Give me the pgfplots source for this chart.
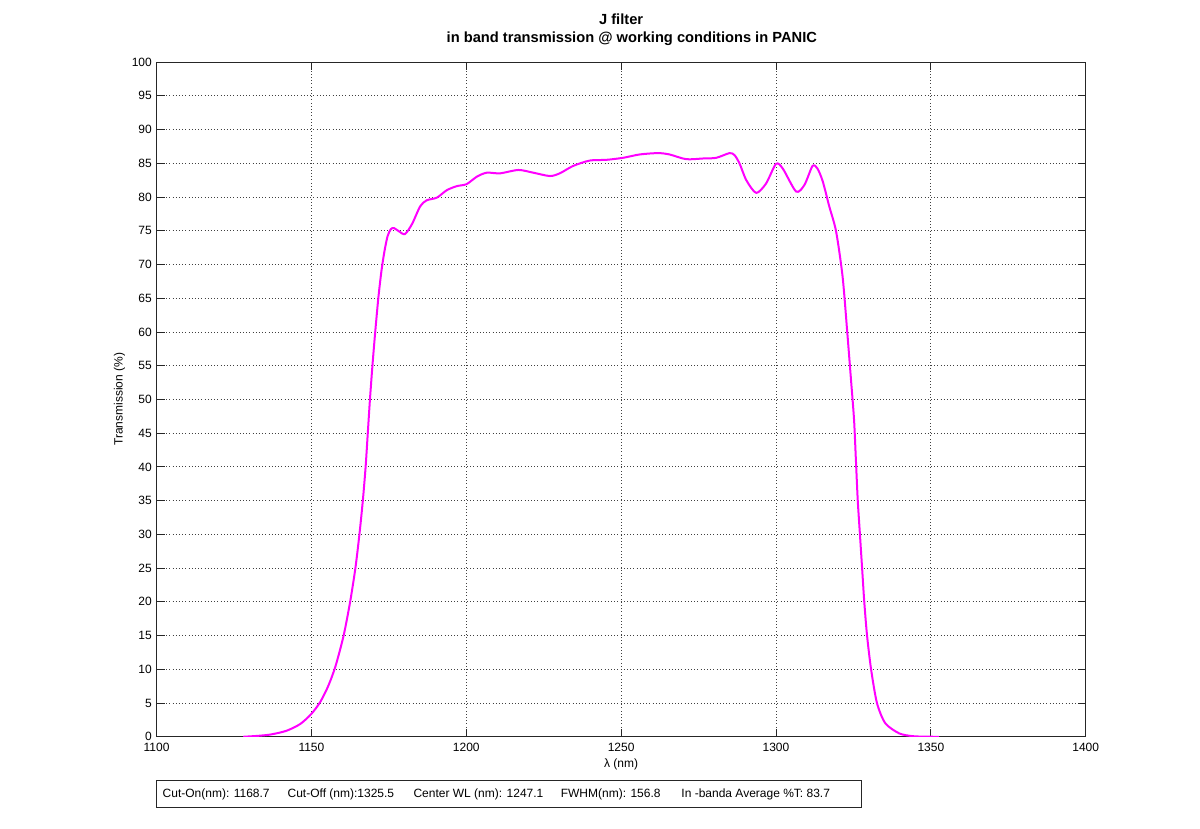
\documentclass[border=0pt]{standalone}
\usepackage{fontspec}
\setmainfont{Liberation Sans}
\usepackage{pgfplots}
\pgfplotsset{compat=1.18}
\definecolor{mag}{RGB}{255,0,255}
\begin{document}
\begin{tikzpicture}
\path[use as bounding box] (-117.4pt,-68.5pt) rectangle (782.45pt,552.5pt);
\begin{axis}[
  at={(0,0)}, anchor=south west,
  scale only axis, width=696.75pt, height=506pt,
  xmin=1100, xmax=1400, ymin=0, ymax=100,
  xtick={1100,1150,...,1400}, ytick={0,5,...,100},
  tick align=inside, major tick length=6pt,
  grid=major,
  major grid style={dotted, black!75, line width=0.6pt},
  axis line style={black!85, line width=0.6pt},
  tick style={black!85, line width=0.6pt},
  ticklabel style={font=\fontsize{9}{11}\selectfont},
  xticklabel style={yshift=-1.5pt},
  /pgf/number format/assume math mode=true,
  /pgf/number format/1000 sep={},
  xlabel={λ (nm)},
  ylabel={Transmission (\%)},
  label style={font=\fontsize{9}{11}\selectfont},
  xlabel style={at={(axis description cs:0.5,-0.0415)}, anchor=center},
  ylabel style={at={(axis description cs:-0.040,0.5)}, anchor=center},
  title={J filter\\\hspace*{16pt}in band transmission @ working conditions in PANIC},
  title style={align=center, font=\fontsize{11}{13.5}\selectfont\bfseries,
    at={(axis description cs:0.5,1)}, anchor=center, yshift=18pt},
]
\addplot[mag, line width=1.5pt, line join=round, smooth, tension=0.45] coordinates {
(1128,0.0) (1133,0.15) (1137,0.35) (1142,0.9) (1146.4,1.9) (1150,3.4)
(1152.9,5.2) (1155.5,7.6) (1157.8,10.5) (1160.4,15) (1162.5,20) (1164.2,25)
(1165.5,30) (1166.6,35) (1167.5,40) (1168.2,45) (1168.9,50) (1169.7,55)
(1170.6,60) (1171.6,65) (1172.6,69) (1173.6,72) (1174.6,74.2) (1175.6,75.2)
(1176.6,75.4) (1178.3,74.9) (1180.2,74.5) (1182.5,76.0) (1185.1,78.6)
(1187.2,79.5) (1190.5,79.9) (1193.7,81.0) (1196.9,81.6) (1200.1,81.9)
(1203.4,83.0) (1206.6,83.6) (1210.9,83.5) (1216.8,84.0) (1221.6,83.6)
(1227,83.1) (1230.2,83.5) (1234.5,84.6) (1239.9,85.4) (1245.2,85.5)
(1250.6,85.8) (1256,86.3) (1261.9,86.5) (1265.6,86.3) (1271,85.6)
(1276.4,85.7) (1280.7,85.8) (1285,86.5) (1286.6,86.2) (1288.2,85.0)
(1290.4,82.5) (1293.6,80.6) (1296.8,82.0) (1300,84.9) (1302.2,84.2)
(1306.5,80.8) (1309.2,81.8) (1311.8,84.6) (1313.4,84.2) (1315.1,82.3)
(1317.2,78.6) (1319.4,74.9) (1321.5,68.2) (1323.0,60) (1324.2,53)
(1325.2,47) (1325.8,41) (1326.4,35) (1327.1,30) (1327.8,25) (1328.5,20)
(1329.4,15) (1330.7,10) (1332.6,5) (1335.3,2) (1339.8,0.5) (1344,0.1)
(1348,0.02) (1352.7,0.0)
};
\end{axis}
\node[draw=black!85, line width=0.6pt, anchor=south west, minimum width=528.6pt, minimum height=20pt, inner sep=0pt] at (-0.6pt,-53pt) {};
\begin{scope}[every node/.style={anchor=west, inner sep=0pt, font=\fontsize{9}{11}\selectfont}]
\node at (4.4pt,-43pt) {Cut-On(nm): 1168.7};
\node at (98.1pt,-43pt) {Cut-Off (nm):1325.5};
\node at (192.5pt,-43pt) {Center WL (nm): 1247.1};
\node at (302.9pt,-43pt) {FWHM(nm): 156.8};
\node at (393.4pt,-43pt) {In -banda Average \%T: 83.7};
\end{scope}
\end{tikzpicture}
\end{document}
